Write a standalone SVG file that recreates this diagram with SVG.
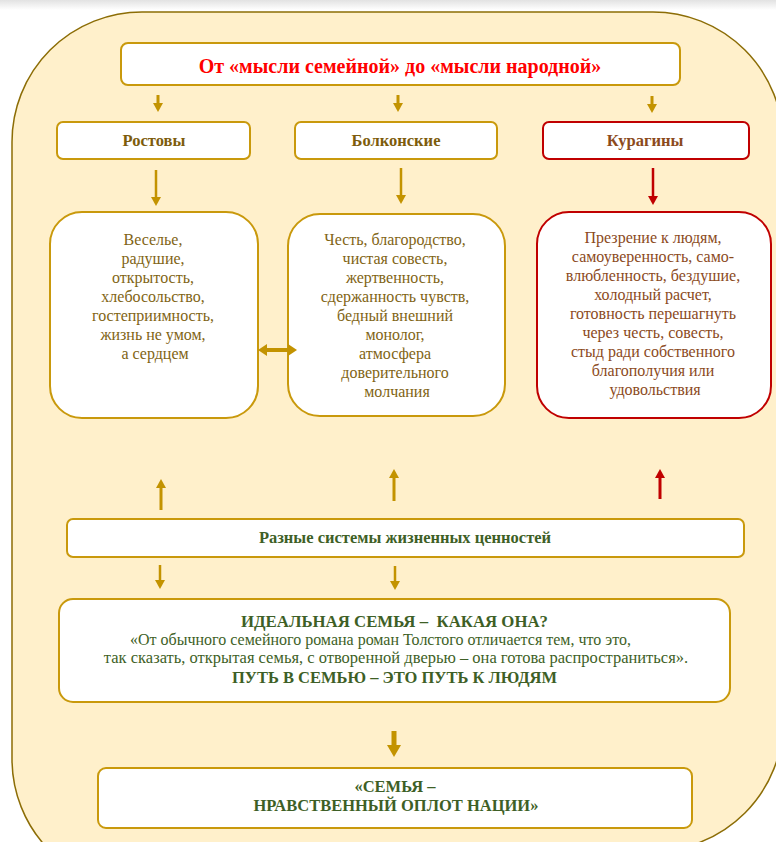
<svg xmlns="http://www.w3.org/2000/svg" width="776" height="842" viewBox="0 0 776 842">
<defs>
<linearGradient id="topShade" x1="0" y1="0" x2="0" y2="1">
<stop offset="0" stop-color="#e2e2e2"/>
<stop offset="1" stop-color="#ffffff"/>
</linearGradient>
<marker id="mg" viewBox="0 0 9 10" markerWidth="9" markerHeight="10" refX="0" refY="5" orient="auto" markerUnits="userSpaceOnUse"><path d="M0,0 L9,5 L0,10 z" fill="#c39300"/></marker>
<marker id="mr" viewBox="0 0 9 10" markerWidth="9" markerHeight="10" refX="0" refY="5" orient="auto" markerUnits="userSpaceOnUse"><path d="M0,0 L9,5 L0,10 z" fill="#c00000"/></marker>
<marker id="md" viewBox="0 0 9 12" markerWidth="9" markerHeight="12" refX="0" refY="6" orient="auto-start-reverse" markerUnits="userSpaceOnUse"><path d="M0,0 L9,6 L0,12 z" fill="#c39300"/></marker>
<marker id="mb" viewBox="0 0 12 14" markerWidth="12" markerHeight="14" refX="0" refY="7" orient="auto" markerUnits="userSpaceOnUse"><path d="M0,0 L12,7 L0,14 z" fill="#c39300"/></marker>
</defs>
<style>
.box{fill:#ffffff;stroke:#c9990c;stroke-width:2}
.rbox{fill:#ffffff;stroke:#c00000;stroke-width:2}
.t{font-family:"Liberation Serif","Times New Roman",serif;text-anchor:middle}
.b{font-weight:bold}
.gold{fill:#7d5c0c}
.body{fill:#7f6414;font-size:16px}
.kur{fill:#8b4a1c}
.grn{fill:#3e5f26}
.cg{stroke:#c39300;fill:none}
.cr{stroke:#c00000;fill:none}
</style>
<rect x="0" y="0" width="776" height="10" fill="url(#topShade)"/>
<path id="panel" d="M142,12 H653 A130,130 0 0 1 783,142 V721 A130,130 0 0 1 653,851 L142,889 A130,130 0 0 1 12,759 V142 A130,130 0 0 1 142,12 Z" fill="#fff0cb" stroke="#8c6d06" stroke-width="1.5"/>

<g id="title">
<rect class="box" x="121" y="43" width="559" height="42" rx="7"/>
<text class="t b" x="400" y="73" font-size="20" fill="#ff0000">От «мысли семейной» до «мысли народной»</text>
</g>

<g id="rostovy">
<rect class="box" x="57" y="122" width="193" height="37" rx="6"/>
<text class="t b gold" x="154" y="146" font-size="16.5">Ростовы</text>
</g>
<g id="bolkonskie">
<rect class="box" x="295" y="122" width="202" height="37" rx="6"/>
<text class="t b gold" x="396" y="146" font-size="16.5">Болконские</text>
</g>
<g id="kuragin">
<rect class="rbox" x="543" y="122" width="206" height="37" rx="6"/>
<text class="t b kur" x="645" y="146" font-size="16.5">Курагины</text>
</g>

<g id="rostovy-values">
<rect class="box" x="50" y="212" width="208" height="206" rx="32"/>
<text class="t body" x="155">
<tspan x="155" y="245">Веселье,</tspan>
<tspan x="155" y="264">радушие,</tspan>
<tspan x="155" y="283">открытость,</tspan>
<tspan x="155" y="302">хлебосольство,</tspan>
<tspan x="155" y="321">гостеприимность,</tspan>
<tspan x="155" y="340">жизнь не умом,</tspan>
<tspan x="155" y="359">а сердцем</tspan>
</text>
</g>

<g id="bolkonskie-values">
<rect class="box" x="288" y="214" width="217" height="202" rx="32"/>
<text class="t body" x="397" font-size="16.3">
<tspan x="397" y="245">Честь, благородство,</tspan>
<tspan x="397" y="264">чистая совесть,</tspan>
<tspan x="397" y="283">жертвенность,</tspan>
<tspan x="397" y="302">сдержанность чувств,</tspan>
<tspan x="397" y="321">бедный внешний</tspan>
<tspan x="397" y="340">монолог,</tspan>
<tspan x="397" y="359">атмосфера</tspan>
<tspan x="397" y="378">доверительного</tspan>
<tspan x="397" y="397">молчания</tspan>
</text>
</g>

<g id="kuragin-values">
<rect class="rbox" x="537" y="212" width="234" height="206" rx="32"/>
<text class="t kur" x="655" font-size="16">
<tspan x="655" y="243">Презрение к людям,</tspan>
<tspan x="655" y="262">самоуверенность, само-</tspan>
<tspan x="655" y="281">влюбленность, бездушие,</tspan>
<tspan x="655" y="300">холодный расчет,</tspan>
<tspan x="655" y="319">готовность перешагнуть</tspan>
<tspan x="655" y="338">через честь, совесть,</tspan>
<tspan x="655" y="357">стыд ради собственного</tspan>
<tspan x="655" y="376">благополучия или</tspan>
<tspan x="655" y="395">удовольствия</tspan>
</text>
</g>

<g id="values-systems">
<rect class="box" x="67" y="519" width="677" height="38" rx="6"/>
<text class="t b grn" x="405" y="543" font-size="16.5">Разные системы жизненных ценностей</text>
</g>

<g id="ideal-family">
<rect class="box" x="59" y="599" width="671" height="103" rx="14"/>
<text class="t b grn" x="394.5" y="626.5" font-size="16.8">ИДЕАЛЬНАЯ СЕМЬЯ –&#160; КАКАЯ ОНА?</text>
<text class="t grn" x="380.5" y="644.5" font-size="16">«От обычного семейного романа роман Толстого отличается тем, что это,</text>
<text class="t grn" x="396" y="663" font-size="16.5">так сказать, открытая семья, с отворенной дверью – она готова распространиться».</text>
<text class="t b grn" x="394.5" y="682.5" font-size="16.5">ПУТЬ В СЕМЬЮ – ЭТО ПУТЬ К ЛЮДЯМ</text>
</g>

<g id="moral-stronghold">
<rect class="box" x="98" y="768" width="594" height="60" rx="8"/>
<text class="t b grn" x="395" y="792" font-size="16.5">«СЕМЬЯ –</text>
<text class="t b grn" x="396" y="811" font-size="16.5">НРАВСТВЕННЫЙ ОПЛОТ НАЦИИ»</text>
</g>

<g id="connectors">
<path class="cg" stroke-width="3" d="M158,95 V103" marker-end="url(#mg)"/>
<path class="cg" stroke-width="3" d="M398,95 V103" marker-end="url(#mg)"/>
<path class="cg" stroke-width="3" d="M652,96 V104" marker-end="url(#mg)"/>
<path class="cg" stroke-width="2.5" d="M156,170 V197" marker-end="url(#mg)"/>
<path class="cg" stroke-width="2.5" d="M401,168 V195" marker-end="url(#mg)"/>
<path class="cr" stroke-width="2.5" d="M653,168 V196" marker-end="url(#mr)"/>
<path class="cg" stroke-width="4" d="M267,350 H288" marker-start="url(#md)" marker-end="url(#md)"/>
<path class="cg" stroke-width="3" d="M161,510 V488" marker-end="url(#mg)"/>
<path class="cg" stroke-width="3" d="M394,501 V478" marker-end="url(#mg)"/>
<path class="cr" stroke-width="3" d="M660,499 V478" marker-end="url(#mr)"/>
<path class="cg" stroke-width="2.5" d="M160,565 V580" marker-end="url(#mg)"/>
<path class="cg" stroke-width="2.5" d="M395,566 V581" marker-end="url(#mg)"/>
<path class="cg" stroke-width="5" d="M394,731 V745" marker-end="url(#mb)"/>
</g>
</svg>
